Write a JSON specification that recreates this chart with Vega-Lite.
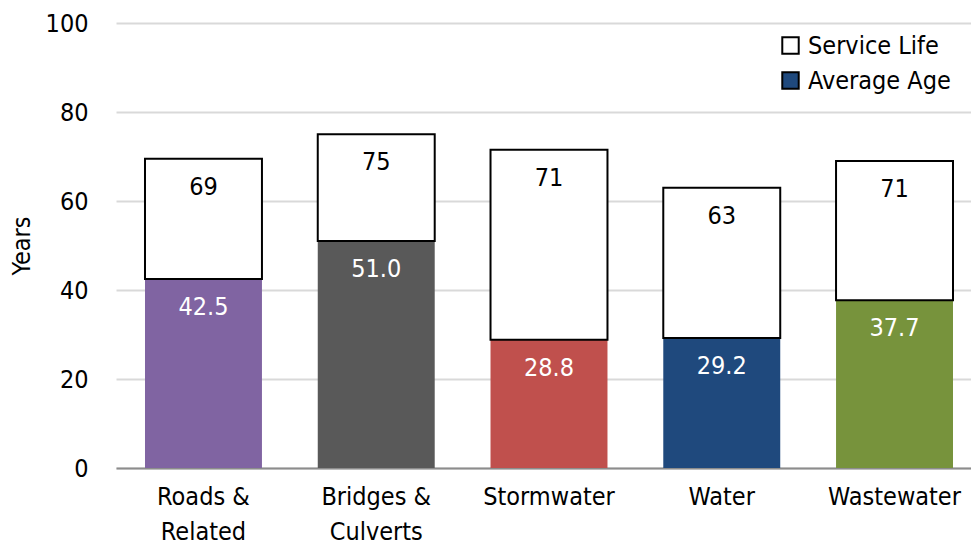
{
  "$schema": "https://vega.github.io/schema/vega-lite/v6.json",
  "width": 855,
  "height": 445,
  "autosize": "none",
  "padding": {"left": 116, "top": 23, "right": 0, "bottom": 78},
  "config": {
    "font": "DejaVu Sans Condensed, Roboto",
    "view": {"stroke": null},
    "axis": {"labelFont": "DejaVu Sans Condensed, Roboto", "titleFont": "DejaVu Sans Condensed, Roboto"},
    "legend": {"labelFont": "DejaVu Sans Condensed, Roboto"}
  },
  "data": {
    "values": [
      {"cat": "Roads &|Related", "life": 69.5, "lifeLabel": "69", "age": 42.5, "series": "Service Life"},
      {"cat": "Bridges &|Culverts", "life": 75, "lifeLabel": "75", "age": 51.0, "series": "Service Life"},
      {"cat": "Stormwater", "life": 71.5, "lifeLabel": "71", "age": 28.8, "series": "Service Life"},
      {"cat": "Water", "life": 63, "lifeLabel": "63", "age": 29.2, "series": "Service Life"},
      {"cat": "Wastewater", "life": 69, "lifeLabel": "71", "age": 37.7, "series": "Service Life"}
    ]
  },
  "encoding": {
    "x": {
      "field": "cat",
      "type": "nominal",
      "sort": null,
      "scale": {"paddingInner": 0.323, "paddingOuter": 0.136, "align": 0.617},
      "axis": {
        "title": null,
        "labelAngle": 0,
        "labelExpr": "split(datum.label, '|')",
        "labelBaseline": "top",
        "labelLineHeight": 35,
        "labelFontSize": 25,
        "labelColor": "#000000",
        "labelPadding": 16,
        "ticks": false,
        "domainColor": "#8c8c8c",
        "domainWidth": 2
      }
    }
  },
  "layer": [
    {
      "mark": {"type": "bar"},
      "encoding": {
        "y": {
          "field": "age",
          "type": "quantitative",
          "scale": {"domain": [0, 100]},
          "axis": {
            "title": "Years",
            "titleFontSize": 25,
            "titleFontWeight": "normal",
            "titleColor": "#000000",
            "titlePadding": 11,
            "values": [0, 20, 40, 60, 80, 100],
            "labelFontSize": 25,
            "labelColor": "#000000",
            "labelPadding": 28,
            "ticks": false,
            "domain": false,
            "gridColor": "#d9d9d9",
            "gridWidth": 2
          }
        },
        "color": {
          "field": "cat",
          "type": "nominal",
          "scale": {
            "domain": ["Roads &|Related", "Bridges &|Culverts", "Stormwater", "Water", "Wastewater"],
            "range": ["#8064A2", "#595959", "#C0504D", "#1F497D", "#77933C"]
          },
          "legend": null
        }
      }
    },
    {
      "mark": {"type": "bar", "stroke": "black", "strokeWidth": 2},
      "encoding": {
        "y": {"field": "life", "type": "quantitative"},
        "y2": {"field": "age"},
        "fill": {
          "field": "series",
          "type": "nominal",
          "scale": {"domain": ["Service Life", "Average Age"], "range": ["#ffffff", "#1F497D"]},
          "legend": {
            "title": null,
            "orient": "none",
            "legendX": 662,
            "legendY": 10,
            "padding": 0,
            "symbolType": "square",
            "symbolSize": 270,
            "symbolStrokeWidth": 2,
            "labelFontSize": 25,
            "labelColor": "#000000",
            "labelOffset": 5,
            "rowPadding": 9,
            "encode": {
              "symbols": {
                "update": {
                  "stroke": {"signal": "datum.label === 'Service Life' ? '#000000' : '#1F497D'"}
                }
              }
            }
          }
        }
      }
    },
    {
      "mark": {"type": "text", "baseline": "middle", "dy": 28, "fontSize": 25, "color": "#000000"},
      "encoding": {
        "y": {"field": "life", "type": "quantitative"},
        "text": {"field": "lifeLabel"}
      }
    },
    {
      "mark": {"type": "text", "baseline": "middle", "dy": 28, "fontSize": 25, "color": "#ffffff"},
      "encoding": {
        "y": {"field": "age", "type": "quantitative"},
        "text": {"field": "age", "type": "quantitative", "format": ".1f"}
      }
    }
  ]
}
